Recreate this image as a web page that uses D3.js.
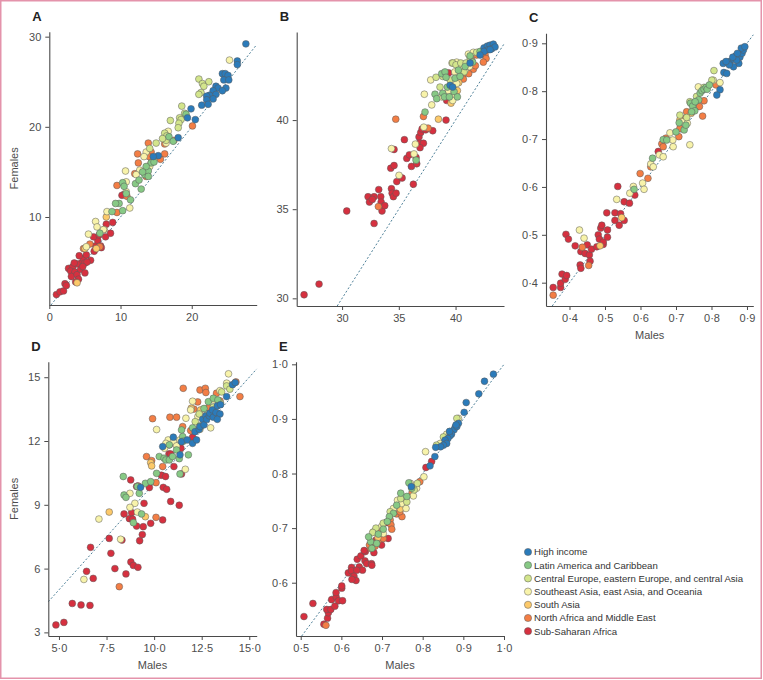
<!DOCTYPE html>
<html><head><meta charset="utf-8">
<script src="https://cdn.jsdelivr.net/npm/d3@7"></script>
<style>
body{margin:0;background:#fff;}
svg{display:block;font-family:"Liberation Sans",Arial,sans-serif;}
</style></head>
<body><svg id="chart" width="763" height="680"></svg>
<script>
// ---------- categories ----------
const regions = ["High income","Latin America and Caribbean","Central Europe, eastern Europe, and central Asia","Southeast Asia, east Asia, and Oceania","South Asia","North Africa and Middle East","Sub-Saharan Africa"];
const regionKeys = ["HI","LA","CE","SE","SA","NA","SS"];
const regionColors = ["#2b7bba","#87c985","#d3e58c","#f8f3aa","#fcc96a","#f37e45","#d6303f"];
const drawOrder = ["SS","NA","SA","SE","CE","LA","HI"];

// ---------- panel A ----------
const A_HI=[[27.6,29.2],[26.4,27.3],[26.4,26.9],[24.3,25.9],[24.7,25.9],[25.1,25.7],[24.5,25.2],[25.2,25.2],[24.8,24.3],[23.4,24.5],[23.7,24.3],[23.0,24.0],[24.3,24.0],[23.4,23.6],[22.5,23.5],[22.1,23.4],[23.0,23.1],[22.1,23.0],[21.4,22.4],[22.3,22.5],[19.9,22.0],[19.4,21.0],[20.5,20.8],[18.1,18.8],[15.3,16.8],[14.6,16.7]];
const A_LA=[[10.3,13.8],[10.5,13.4],[10.8,12.6],[11.4,11.9],[9.8,11.5],[9.3,11.5],[8.8,10.6],[10.3,10.7],[12.1,13.7],[12.9,13.1],[13.4,14.7],[13.9,15.1],[14.3,16.0],[14.7,16.1],[13.9,14.5],[12.6,14.1],[13.6,15.6],[16.8,18.9],[17.4,18.4],[19.2,21.4],[13.1,15.0],[7.1,8.2]];
const A_CE=[[21.0,25.3],[21.5,24.8],[22.4,25.0],[21.7,24.5],[21.3,23.8],[21.0,23.6],[18.6,22.3],[19.0,21.5],[18.3,21.0],[18.5,20.8],[18.2,20.4],[18.1,19.9],[17.0,20.7],[16.2,19.3],[16.5,19.0],[16.4,18.5],[15.9,18.7],[15.0,18.2],[14.1,17.6]];
const A_SE=[[25.3,27.4],[13.6,17.2],[13.3,16.7],[12.7,15.2],[14.1,15.6],[10.7,15.1],[10.8,13.9],[10.8,12.8],[11.3,11.0],[6.5,9.5],[6.7,8.9],[5.5,8.1],[8.1,10.6],[12.2,14.7],[16.4,18.2],[16.7,19.5],[5.2,6.7],[7.6,8.6]];
const A_SA=[[8.0,10.0],[5.0,6.5],[3.9,2.7],[6.6,6.5],[7.7,8.6]];
const A_NA=[[13.9,18.2],[12.4,17.0],[12.5,16.0],[9.5,13.5],[10.9,12.3],[12.0,14.8],[13.6,14.5],[14.3,17.2],[14.3,16.0],[16.2,18.1],[16.2,17.0],[15.6,16.4],[17.5,18.5],[20.1,20.1],[9.5,10.5],[5.7,7.0],[4.8,6.5],[7.1,6.7],[14.0,16.7]];
const A_SS=[[1.0,1.4],[1.5,1.7],[2.0,1.8],[2.2,2.6],[2.4,2.4],[2.7,4.3],[3.3,4.5],[3.0,4.0],[3.6,3.9],[3.1,3.4],[3.9,3.6],[4.1,3.1],[3.7,2.8],[4.4,4.2],[4.5,4.9],[4.8,5.4],[4.2,5.7],[5.2,5.8],[5.0,4.9],[5.0,3.8],[3.9,4.8],[5.8,5.2],[6.3,6.2],[6.5,6.8],[6.8,7.4],[7.2,6.8],[6.2,7.8],[7.0,8.0],[7.9,7.8],[8.6,8.2],[8.0,9.2],[8.9,9.4],[10.5,12.5],[10.2,12.4],[7.3,6.6],[3.5,4.9],[5.3,5.0],[4.7,4.5]];

// ---------- panel B ----------
const B_HI=[[39.52,41.95],[39.75,41.85],[41.28,43.2],[42.51,44.05],[42.8,44.15],[43.04,44.2],[43.33,44.26],[42.89,43.95],[43.19,44.0],[42.51,43.85],[43.48,44.1],[42.16,43.65],[43.04,43.95]];
const B_LA=[[37.31,40.45],[36.52,37.75],[38.19,41.45],[38.34,41.2],[38.87,41.5],[39.02,41.3],[38.78,42.6],[39.07,42.7],[39.28,41.85],[39.46,41.3],[39.87,41.6],[40.16,41.3],[39.96,42.35],[40.4,42.45],[40.84,43.0],[41.28,43.6],[41.51,43.25],[42.16,43.85],[40.25,42.8],[39.16,42.4]];
const B_CE=[[38.87,42.45],[38.28,42.4],[38.63,41.85],[39.52,42.25],[39.75,43.2],[40.04,43.1],[40.46,43.2],[40.75,42.7],[40.93,43.2],[41.28,43.5],[41.86,43.8]];
const B_SE=[[34.35,38.4],[35.02,36.9],[36.34,38.1],[36.46,38.65],[37.2,39.6],[37.9,40.85],[37.81,42.25],[37.25,41.45],[39.93,42.7],[39.69,43.2],[40.1,43.25],[40.4,43.0],[40.84,42.8],[41.22,43.0],[39.81,41.45],[39.37,41.65],[39.75,41.1],[38.78,41.3],[41.13,43.7],[41.57,43.8],[42.04,43.75],[40.1,42.05]];
const B_SA=[[38.49,40.05],[39.6,40.95],[40.16,41.65],[40.28,42.1]];
const B_NA=[[34.73,40.05],[33.2,35.15],[37.17,40.2],[37.58,39.55],[40.69,42.6],[41.07,43.15],[41.42,43.35],[41.86,43.65],[42.31,43.85],[42.6,43.65],[41.57,42.85],[41.16,42.6],[42.69,43.45],[40.69,42.3],[41.75,43.05],[42.45,43.25]];
const B_SS=[[26.65,30.2],[27.97,30.8],[30.41,34.9],[32.82,34.2],[32.29,35.7],[32.41,35.4],[32.82,35.7],[32.67,35.55],[33.23,36.1],[33.41,35.7],[33.44,35.4],[33.52,34.9],[33.76,35.2],[34.35,36.15],[34.41,35.9],[34.52,35.7],[34.76,35.9],[34.29,37.3],[34.58,37.45],[34.58,38.35],[34.82,36.55],[35.29,36.75],[35.49,38.9],[35.7,37.85],[35.93,38.05],[36.11,37.4],[36.28,36.4],[36.52,37.9],[36.58,37.55],[36.78,39.05],[36.93,39.3],[37.05,39.5],[36.81,38.7],[37.17,38.7],[36.87,38.45],[37.99,39.4],[39.16,40.0],[39.22,41.1],[39.4,42.65],[37.37,39.45]];

// ---------- panel C ----------
const C_HI=[[0.833,0.858],[0.835,0.839],[0.843,0.837],[0.824,0.803],[0.815,0.792],[0.852,0.862],[0.862,0.867],[0.869,0.874],[0.877,0.858],[0.880,0.871],[0.886,0.879],[0.890,0.886],[0.884,0.890],[0.894,0.893],[0.871,0.865],[0.862,0.851],[0.850,0.855],[0.860,0.871],[0.841,0.862],[0.873,0.879]];
const C_LA=[[0.634,0.660],[0.582,0.595],[0.664,0.699],[0.674,0.698],[0.700,0.715],[0.709,0.734],[0.723,0.719],[0.741,0.775],[0.747,0.769],[0.753,0.759],[0.764,0.782],[0.768,0.796],[0.773,0.801],[0.779,0.804],[0.785,0.808],[0.788,0.804],[0.794,0.813],[0.754,0.778],[0.744,0.757],[0.728,0.729]];
const C_CE=[[0.807,0.843],[0.801,0.823],[0.779,0.808],[0.749,0.764],[0.730,0.745],[0.711,0.750],[0.758,0.789],[0.739,0.778]];
const C_SE=[[0.428,0.510],[0.441,0.493],[0.533,0.574],[0.570,0.587],[0.580,0.601],[0.606,0.608],[0.610,0.595],[0.629,0.648],[0.636,0.642],[0.653,0.667],[0.664,0.663],[0.683,0.713],[0.691,0.698],[0.692,0.684],[0.739,0.688],[0.719,0.736],[0.732,0.733],[0.749,0.761],[0.763,0.809],[0.805,0.823],[0.824,0.818]];
const C_SA=[[0.547,0.536],[0.486,0.477],[0.711,0.740],[0.743,0.754]];
const C_NA=[[0.354,0.374],[0.436,0.474],[0.454,0.436],[0.599,0.628],[0.621,0.618],[0.629,0.642],[0.660,0.690],[0.672,0.702],[0.708,0.705],[0.711,0.722],[0.723,0.743],[0.730,0.757],[0.766,0.768],[0.775,0.748],[0.813,0.813],[0.779,0.780],[0.664,0.684]];
const C_SS=[[0.354,0.390],[0.375,0.390],[0.375,0.399],[0.379,0.418],[0.388,0.407],[0.392,0.415],[0.390,0.501],[0.397,0.491],[0.416,0.477],[0.430,0.437],[0.432,0.430],[0.432,0.465],[0.444,0.461],[0.450,0.479],[0.456,0.458],[0.458,0.445],[0.462,0.470],[0.477,0.475],[0.481,0.500],[0.484,0.491],[0.488,0.514],[0.491,0.520],[0.495,0.480],[0.495,0.485],[0.507,0.510],[0.507,0.495],[0.505,0.546],[0.528,0.546],[0.528,0.530],[0.536,0.601],[0.540,0.520],[0.544,0.544],[0.554,0.569],[0.554,0.530],[0.569,0.566],[0.584,0.583],[0.650,0.674]];

// ---------- panel D ----------
const D_HI=[[9.29,9.82],[10.45,11.74],[11.01,12.18],[11.36,11.35],[11.44,11.97],[11.74,12.05],[12.02,11.89],[12.15,12.44],[12.23,12.05],[12.37,12.55],[12.41,12.68],[12.55,13.02],[12.62,12.76],[12.72,13.18],[12.76,13.02],[12.9,13.18],[12.93,13.31],[13.07,13.46],[13.11,13.12],[13.25,13.34],[13.32,13.65],[13.49,13.71],[13.46,13.27],[13.81,14.09],[14.12,14.65],[14.26,14.75],[13.32,13.02]];
const D_LA=[[8.38,10.33],[8.42,9.46],[8.52,9.35],[8.91,8.16],[9.12,9.86],[9.22,9.54],[9.34,8.57],[9.54,10.01],[9.82,10.09],[10.13,10.48],[10.27,11.27],[10.52,11.19],[10.62,11.11],[10.8,11.11],[10.97,11.27],[11.18,11.58],[11.32,11.17],[11.36,10.45],[11.5,12.21],[11.53,11.99],[11.8,11.35],[12.02,12.62],[12.41,12.71],[12.62,13.53],[12.85,13.85],[13.11,14.01],[13.35,13.93],[11.44,12.52],[10.8,11.82]];
const D_CE=[[12.76,13.23],[13.11,13.59],[13.49,13.78],[13.55,14.31],[13.81,14.59],[13.98,14.44],[12.37,13.27],[12.16,12.91]];
const D_SE=[[7.1,8.33],[6.31,5.49],[8.24,7.38],[8.73,9.54],[8.99,9.07],[9.12,8.66],[8.73,8.88],[10.13,12.54],[10.55,11.66],[10.74,12.05],[11.01,11.97],[11.18,11.77],[11.36,12.05],[11.67,13.07],[11.92,13.46],[12.02,13.87],[11.64,10.67],[12.3,13.15],[12.41,12.55],[12.97,12.62],[13.91,15.16],[13.81,14.72],[13.46,14.37],[13.11,13.93],[10.62,11.89]];
const D_SA=[[7.64,8.66],[9.82,10.98],[9.87,10.83],[9.54,8.44],[11.95,13.54],[12.44,13.46],[13.28,13.15]];
const D_NA=[[8.17,5.15],[9.6,11.27],[9.87,11.08],[9.92,13.05],[10.1,10.04],[10.45,10.8],[10.83,13.12],[11.18,13.12],[11.53,14.48],[11.5,12.68],[12.09,13.5],[12.29,13.84],[12.41,14.4],[12.69,14.48],[12.72,14.28],[13.28,14.25],[14.3,14.78],[14.51,14.09],[10.1,8.41],[11.92,12.49],[12.86,13.56],[13.46,13.89]];
const D_SS=[[4.84,3.35],[5.26,3.47],[5.70,4.36],[6.16,4.29],[6.63,4.27],[6.66,7.0],[6.45,5.87],[6.80,5.54],[7.64,7.42],[7.73,6.72],[7.94,6.0],[8.31,7.34],[8.42,8.57],[8.70,8.35],[8.82,8.63],[8.87,8.32],[8.77,10.17],[8.78,6.31],[8.91,6.15],[8.52,5.75],[9.08,8.0],[9.15,6.06],[9.15,9.89],[9.24,7.31],[9.38,7.6],[9.43,7.97],[9.47,9.07],[9.75,9.81],[9.82,8.13],[10.45,8.29],[10.38,10.39],[10.48,9.82],[10.6,10.33],[10.66,9.73],[10.87,9.16],[11.04,10.8],[11.32,8.98],[11.44,10.45],[11.41,11.66],[10.78,11.39],[12.02,12.18],[10.87,11.39],[10.8,11.82],[9.08,9.86]];

// ---------- panel E ----------
const E_HI=[[0.974,0.982],[0.952,0.969],[0.938,0.946],[0.907,0.930],[0.902,0.912],[0.888,0.892],[0.880,0.885],[0.877,0.880],[0.871,0.872],[0.867,0.869],[0.862,0.864],[0.855,0.861],[0.859,0.855],[0.851,0.852],[0.844,0.849],[0.866,0.877],[0.884,0.886],[0.832,0.848],[0.830,0.831],[0.818,0.814],[0.772,0.776],[0.882,0.889]];
const E_LA=[[0.746,0.764],[0.761,0.758],[0.773,0.773],[0.766,0.783],[0.728,0.727],[0.736,0.742],[0.718,0.721],[0.713,0.712],[0.703,0.698],[0.691,0.689],[0.672,0.675],[0.667,0.684],[0.675,0.663],[0.687,0.672]];
const E_CE=[[0.884,0.901],[0.867,0.877],[0.851,0.867],[0.834,0.852],[0.787,0.782],[0.779,0.770],[0.761,0.748],[0.746,0.754],[0.720,0.730],[0.685,0.700],[0.677,0.692],[0.703,0.709]];
const E_SE=[[0.807,0.840],[0.803,0.794],[0.888,0.901],[0.843,0.855],[0.859,0.872],[0.785,0.773],[0.777,0.759],[0.770,0.782],[0.738,0.751],[0.749,0.745],[0.759,0.736],[0.728,0.736],[0.699,0.703],[0.703,0.690],[0.679,0.693]];
const E_SA=[[0.690,0.683],[0.745,0.735]];
const E_NA=[[0.793,0.785],[0.774,0.765],[0.736,0.726],[0.749,0.721],[0.744,0.730],[0.720,0.715],[0.695,0.696],[0.691,0.678],[0.683,0.667],[0.672,0.663],[0.669,0.669],[0.562,0.522],[0.722,0.706],[0.724,0.698],[0.703,0.681]];
const E_SS=[[0.508,0.538],[0.530,0.562],[0.557,0.524],[0.566,0.535],[0.568,0.545],[0.564,0.551],[0.574,0.551],[0.584,0.557],[0.576,0.569],[0.587,0.574],[0.587,0.582],[0.593,0.567],[0.603,0.567],[0.601,0.590],[0.601,0.594],[0.617,0.618],[0.625,0.628],[0.625,0.622],[0.631,0.612],[0.636,0.604],[0.626,0.606],[0.639,0.643],[0.644,0.629],[0.648,0.649],[0.652,0.623],[0.658,0.640],[0.659,0.657],[0.662,0.635],[0.674,0.635],[0.675,0.632],[0.680,0.655],[0.677,0.672],[0.685,0.678],[0.699,0.669],[0.715,0.681],[0.710,0.710],[0.751,0.750],[0.808,0.811],[0.822,0.822],[0.656,0.659],[0.638,0.623]];

// ---------- ticks ----------
const A_xTicks=[0,10,20], A_yTicks=[10,20,30];
const B_xTicks=[30,35,40], B_yTicks=[30,35,40];
const C_xTicks=[0.4,0.5,0.6,0.7,0.8,0.9], C_yTicks=[0.4,0.5,0.6,0.7,0.8,0.9];
const D_xTicks=[5,7.5,10,12.5,15], D_yTicks=[3,6,9,12,15];
const E_xTicks=[0.5,0.6,0.7,0.8,0.9,1.0], E_yTicks=[0.6,0.7,0.8,0.9,1.0];

const dot = s => s.replace(".", "\u00B7");
const fmtInt = d => String(d);
const fmt1 = d => dot(d3.format(".1f")(d));

const panels = [
  {id:"A", data:{HI:A_HI,LA:A_LA,CE:A_CE,SE:A_SE,SA:A_SA,NA:A_NA,SS:A_SS},
   xd:[0,29.12], yd:[0.24,30.55], xr:[49.3,256.7], yr:[305,31.7],
   xt:A_xTicks, yt:A_yTicks, fx:fmtInt, fy:fmtInt, ylab:true, xlab:false},
  {id:"B", data:{HI:B_HI,LA:B_LA,CE:B_CE,SE:B_SE,SA:B_SA,NA:B_NA,SS:B_SS},
   xd:[26.0,44.27], yd:[29.57,44.94], xr:[296.7,504], yr:[306,32],
   xt:B_xTicks, yt:B_yTicks, fx:fmtInt, fy:fmtInt, ylab:false, xlab:false},
  {id:"C", data:{HI:C_HI,LA:C_LA,CE:C_CE,SE:C_SE,SA:C_SA,NA:C_NA,SS:C_SS},
   xd:[0.3338,0.9178], yd:[0.3513,0.9209], xr:[546,753.3], yr:[306,33.3],
   xt:C_xTicks, yt:C_yTicks, fx:fmt1, fy:fmt1, ylab:false, xlab:true},
  {id:"D", data:{HI:D_HI,LA:D_LA,CE:D_CE,SE:D_SE,SA:D_SA,NA:D_NA,SS:D_SS},
   xd:[4.44,15.39], yd:[2.83,15.73], xr:[48.3,256.7], yr:[636,361.7],
   xt:D_xTicks, yt:D_yTicks, fx:fmt1, fy:fmtInt, ylab:true, xlab:true},
  {id:"E", data:{HI:E_HI,LA:E_LA,CE:E_CE,SE:E_SE,SA:E_SA,NA:E_NA,SS:E_SS},
   xd:[0.4884,1.0], yd:[0.5024,1.0048], xr:[296,504], yr:[636,361.7],
   xt:E_xTicks, yt:E_yTicks, fx:fmt1, fy:fmt1, ylab:false, xlab:true}
];

const svg = d3.select("#chart");
const colorOf = k => regionColors[regionKeys.indexOf(k)];
const AX = "#4a4a4a", TXT = "#4d4d4d";

panels.forEach(p => {
  const x = d3.scaleLinear().domain(p.xd).range(p.xr);
  const y = d3.scaleLinear().domain(p.yd).range(p.yr);
  const g = svg.append("g");

  // identity line
  const lo = Math.max(p.xd[0], p.yd[0]), hi = Math.min(p.xd[1], p.yd[1]);
  g.append("line").attr("x1", x(lo)).attr("y1", y(lo)).attr("x2", x(hi)).attr("y2", y(hi))
    .attr("stroke", "#4f8199").attr("stroke-width", 1).attr("stroke-dasharray", "2,2");

  // axes
  const xa = g.append("g").attr("transform", `translate(0,${p.yr[0]})`)
    .call(d3.axisBottom(x).tickValues(p.xt).tickFormat(p.fx).tickSize(4).tickSizeOuter(0).tickPadding(4));
  const ya = g.append("g").attr("transform", `translate(${p.xr[0]},0)`)
    .call(d3.axisLeft(y).tickValues(p.yt).tickFormat(p.fy).tickSize(4).tickSizeOuter(0).tickPadding(4));
  [xa, ya].forEach(a => {
    a.select(".domain").attr("stroke", AX).attr("stroke-width", 1.1);
    a.selectAll(".tick line").attr("stroke", AX);
    a.selectAll(".tick text").attr("fill", TXT).attr("font-size", 11).attr("font-family", "Liberation Sans, Arial, sans-serif");
  });

  // points
  drawOrder.forEach(k => {
    g.append("g").selectAll("circle").data(p.data[k]).join("circle")
      .attr("cx", d => x(d[0])).attr("cy", d => y(d[1])).attr("r", 3.4)
      .attr("fill", colorOf(k)).attr("stroke", "#5a5a5a").attr("stroke-width", 0.5);
  });

  // panel letter
  g.append("text").attr("x", p.xr[0] - 17).attr("y", p.yr[1] - 11)
    .attr("font-size", 13).attr("font-weight", "bold").attr("fill", "#222").text(p.id);

  if (p.ylab) {
    const cy = (p.yr[0] + p.yr[1]) / 2;
    g.append("text").attr("transform", `translate(18,${cy}) rotate(-90)`)
      .attr("text-anchor", "middle").attr("font-size", 11).attr("fill", TXT).text("Females");
  }
  if (p.xlab) {
    g.append("text").attr("x", (p.xr[0] + p.xr[1]) / 2).attr("y", p.yr[0] + 33)
      .attr("text-anchor", "middle").attr("font-size", 11).attr("fill", TXT).text("Males");
  }
});

// legend
const lg = svg.append("g").attr("transform", "translate(528,552)");
regions.forEach((r, i) => {
  const row = lg.append("g").attr("transform", `translate(0,${i * 13.2})`);
  row.append("circle").attr("r", 3.6).attr("fill", regionColors[i]).attr("stroke", "#5a5a5a").attr("stroke-width", 0.5);
  row.append("text").attr("x", 6).attr("dy", "0.35em").attr("font-size", 9.6).attr("fill", "#333").text(r);
});

// page frame
svg.append("rect").attr("x", 0.75).attr("y", 0.75).attr("width", 760.5).attr("height", 677.5)
  .attr("fill", "none").attr("stroke", "#e493ab").attr("stroke-width", 1.5);
</script></body></html>
